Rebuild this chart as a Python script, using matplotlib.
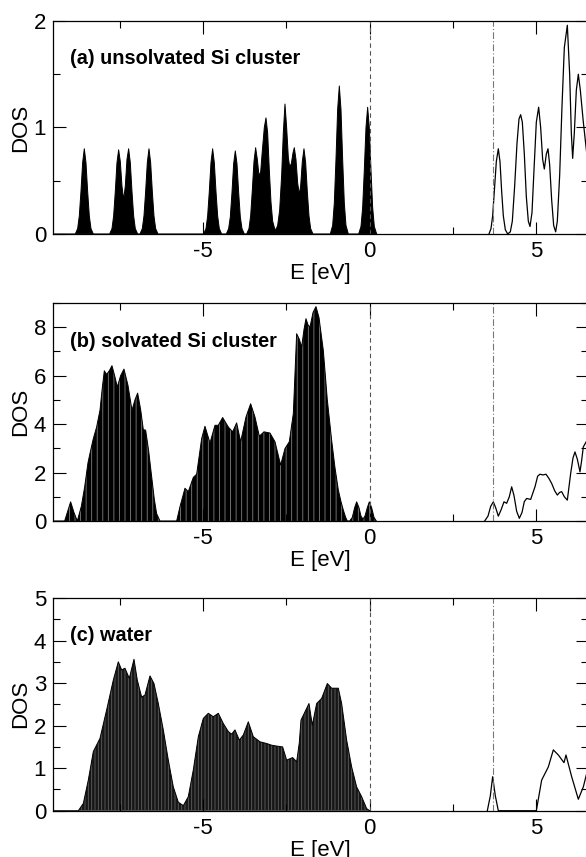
import matplotlib
matplotlib.use("Agg")
import matplotlib.pyplot as plt
from matplotlib.ticker import MultipleLocator

plt.rcParams['font.family'] = ['Liberation Sans', 'DejaVu Sans']
plt.rcParams['hatch.linewidth'] = 0.6

# ---- data: energy [eV] and DOS ----
# (a) unsolvated Si cluster, occupied states (filled)
a_occ_E = [-9.5,
           -8.83, -8.76, -8.71, -8.66, -8.61, -8.56, -8.51, -8.46, -8.41, -8.36, -8.29,
           -7.80, -7.73, -7.68, -7.63, -7.58, -7.53, -7.48, -7.43, -7.38, -7.33, -7.28,
           -7.23, -7.18, -7.13, -7.08, -7.03, -6.96,
           -6.89, -6.82, -6.77, -6.72, -6.67, -6.62, -6.57, -6.52, -6.47, -6.42, -6.35,
           -4.98, -4.91, -4.86, -4.81, -4.76, -4.71, -4.66, -4.61, -4.56, -4.51, -4.44,
           -4.30, -4.23, -4.18, -4.13, -4.08, -4.03, -3.98, -3.93, -3.88, -3.83, -3.76,
           -3.69, -3.62, -3.57, -3.52, -3.47, -3.42, -3.37, -3.32, -3.27, -3.22,
           -3.16, -3.11, -3.06, -3.01, -2.96, -2.91, -2.85, -2.81, -2.76, -2.70,
           -2.64, -2.59, -2.54, -2.49, -2.44, -2.40, -2.35, -2.30, -2.26, -2.21,
           -2.16, -2.11, -2.07, -2.02, -1.97, -1.92, -1.87, -1.82, -1.77, -1.70,
           -1.18, -1.11, -1.06, -1.01, -0.96, -0.91, -0.86, -0.81, -0.76, -0.71, -0.64,
           -0.33, -0.26, -0.21, -0.16, -0.11, -0.06, -0.01, 0.04, 0.09, 0.14, 0.21]
a_occ_D = [0,
           0, 0.05, 0.17, 0.40, 0.67, 0.80, 0.67, 0.40, 0.17, 0.05, 0,
           0, 0.05, 0.17, 0.40, 0.67, 0.79, 0.68, 0.45, 0.32, 0.45, 0.70,
           0.80, 0.67, 0.40, 0.17, 0.05, 0,
           0, 0.05, 0.17, 0.40, 0.67, 0.80, 0.67, 0.40, 0.17, 0.05, 0,
           0, 0.05, 0.17, 0.40, 0.67, 0.80, 0.67, 0.40, 0.17, 0.05, 0,
           0, 0.05, 0.16, 0.39, 0.66, 0.78, 0.66, 0.39, 0.16, 0.05, 0,
           0, 0.05, 0.17, 0.41, 0.68, 0.81, 0.70, 0.55, 0.58, 0.78,
           1.00, 1.09, 0.95, 0.60, 0.30, 0.12, 0.05, 0.04, 0.08, 0.22,
           0.55, 0.95, 1.22, 1.00, 0.72, 0.63, 0.66, 0.76, 0.81, 0.70,
           0.48, 0.37, 0.45, 0.68, 0.80, 0.67, 0.40, 0.17, 0.05, 0,
           0, 0.08, 0.29, 0.70, 1.17, 1.39, 1.17, 0.70, 0.29, 0.08, 0,
           0, 0.07, 0.25, 0.60, 1.00, 1.19, 1.00, 0.60, 0.25, 0.07, 0]
# (a) unoccupied states (line)
a_unocc_E = [3.58, 3.64, 3.69, 3.74, 3.80, 3.86, 3.91, 3.96, 4.01, 4.07,
             4.14, 4.22, 4.28, 4.35, 4.42, 4.48, 4.53, 4.58, 4.64, 4.70,
             4.76, 4.81, 4.87, 4.93, 5.00, 5.07, 5.13, 5.19, 5.24, 5.30,
             5.35, 5.40, 5.46, 5.52, 5.58, 5.63, 5.70, 5.77, 5.84, 5.93,
             6.00, 6.05, 6.09, 6.14, 6.20, 6.26, 6.32, 6.41, 6.55]
a_unocc_D = [0, 0.05, 0.17, 0.40, 0.68, 0.80, 0.68, 0.40, 0.17, 0.04,
             0.0, 0.02, 0.12, 0.45, 0.85, 1.08, 1.12, 1.05, 0.75, 0.35,
             0.12, 0.07, 0.20, 0.60, 1.05, 1.19, 1.00, 0.70, 0.61, 0.75,
             0.80, 0.65, 0.32, 0.08, 0.02, 0.12, 0.55, 1.20, 1.75, 1.96,
             1.50, 0.95, 0.71, 0.95, 1.35, 1.50, 1.35, 1.05, 0.65]

# (b) solvated Si cluster
b_occ_E = [-9.5, -9.15, -9.07, -8.97, -8.87, -8.77, -8.65, -8.55, -8.45, -8.39,
           -8.29, -8.19, -8.09, -8.02, -7.96, -7.89, -7.81, -7.73, -7.65, -7.57,
           -7.47, -7.37, -7.25, -7.13, -7.04, -6.96, -6.87, -6.79, -6.72, -6.63,
           -6.54, -6.46, -6.39, -6.29,
           -5.79, -5.69, -5.54, -5.44, -5.29, -5.19, -5.04, -4.94, -4.79, -4.64,
           -4.54, -4.41, -4.24, -4.11, -3.99, -3.87, -3.71, -3.57, -3.44, -3.31,
           -3.17, -2.99, -2.84, -2.67, -2.54, -2.41, -2.29, -2.19, -2.11, -2.04,
           -1.97, -1.91, -1.85, -1.79, -1.70, -1.61, -1.52, -1.39, -1.27, -1.14,
           -1.04, -0.94, -0.86, -0.79, -0.72, -0.67,
           -0.60, -0.52, -0.45, -0.39, -0.32, -0.26, -0.20, -0.14, -0.07, -0.01,
           0.06, 0.13, 0.20]
b_occ_D = [0, 0, 0.35, 0.79, 0.35, 0, 0.6, 1.4, 2.4, 2.79,
           3.4, 3.88, 4.57, 5.5, 6.2, 6.05, 6.2, 6.41, 6.0, 5.53,
           6.0, 6.27, 5.6, 4.57, 5.0, 5.28, 4.6, 3.77, 3.75, 2.9,
           1.83, 0.9, 0.3, 0,
           0, 0.59, 1.35, 1.21, 1.8, 1.93, 3.4, 3.91, 3.22, 3.95,
           3.95, 4.27, 3.88, 3.68, 4.05, 3.27, 4.29, 4.84, 4.29, 3.5,
           3.68, 3.63, 3.27, 2.31, 2.99, 3.27, 4.43, 7.73, 7.5, 7.18,
           7.9, 8.35, 8.1, 8.0, 8.6, 8.85, 8.4, 7.04, 5.0, 3.33,
           2.2, 1.28, 0.8, 0.45, 0.15, 0,
           0, 0.15, 0.55, 0.79, 0.55, 0.2, 0.08, 0.2, 0.55, 0.79,
           0.55, 0.15, 0]
b_unocc_E = [3.45, 3.55, 3.63, 3.71, 3.78, 3.86, 3.94, 4.03, 4.11, 4.19,
             4.26, 4.33, 4.41, 4.49, 4.57, 4.64, 4.71, 4.83, 4.96, 5.04,
             5.11, 5.20, 5.29, 5.38, 5.46, 5.55, 5.63, 5.70, 5.76, 5.84,
             5.93, 6.03, 6.10, 6.16, 6.23, 6.31, 6.36, 6.41, 6.55]
b_unocc_D = [0, 0.2, 0.6, 0.79, 0.55, 0.2, 0.45, 0.79, 0.73, 1.0,
             1.41, 1.05, 0.4, 0.11, 0.35, 0.8, 0.93, 0.89, 1.41, 1.85,
             1.93, 1.90, 1.93, 1.75, 1.55, 1.25, 1.07, 1.18, 1.21, 1.0,
             0.86, 1.96, 2.6, 2.85, 2.55, 2.03, 2.5, 3.06, 3.4]

# (c) water
c_occ_E = [-9.5, -8.74, -8.59, -8.44, -8.29, -8.09, -7.89, -7.69, -7.54, -7.44,
           -7.34, -7.21, -7.07, -6.97, -6.84, -6.74, -6.59, -6.47, -6.34, -6.19,
           -6.04, -5.89, -5.74, -5.59, -5.44, -5.29, -5.14, -4.99, -4.84, -4.69,
           -4.54, -4.39, -4.24, -4.14, -4.04, -3.91, -3.79, -3.64, -3.49, -3.29,
           -3.09, -2.94, -2.79, -2.61, -2.49, -2.31, -2.19, -2.11, -2.06, -1.82,
           -1.72, -1.59, -1.44, -1.27, -1.14, -0.94, -0.84, -0.69, -0.54, -0.39,
           -0.24, -0.09, 0.0]
c_occ_D = [0, 0, 0.17, 0.72, 1.39, 1.7, 2.37, 3.07, 3.5, 3.31,
           3.35, 3.11, 3.56, 3.07, 2.67, 2.72, 3.17, 2.99, 2.52, 1.9,
           1.19, 0.56, 0.2, 0.12, 0.33, 0.96, 1.74, 2.17, 2.29, 2.21,
           2.29, 2.05, 1.86, 1.8, 1.9, 1.66, 1.78, 2.09, 1.74, 1.62,
           1.58, 1.54, 1.52, 1.5, 1.19, 1.25, 1.15, 1.6, 2.13, 2.52,
           2.01, 2.52, 2.64, 2.99, 2.88, 2.88, 2.52, 1.66, 1.03, 0.56,
           0.33, 0.05, 0]
c_unocc_E = [3.53, 3.62, 3.69, 3.77, 3.86, 5.00, 5.16, 5.36, 5.51, 5.66,
             5.83, 5.89, 6.06, 6.26, 6.41, 6.55]
c_unocc_D = [0, 0.35, 0.8, 0.35, 0, 0, 0.72, 1.03, 1.43, 1.31,
             1.13, 1.31, 0.8, 0.27, 0.56, 1.0]

labels = ['(a) unsolvated Si cluster', '(b) solvated Si cluster', '(c) water']
ylims = [2, 9, 5]
ymajor = [1, 2, 1]
yminor = [0.5, 1, 0.5]
homo = 0.0
lumo = [3.71, 3.69, 3.69]

panels = [(a_occ_E, a_occ_D, a_unocc_E, a_unocc_D),
          (b_occ_E, b_occ_D, b_unocc_E, b_unocc_D),
          (c_occ_E, c_occ_D, c_unocc_E, c_unocc_D)]
fills = ['black', 'black', '#161616']
hatches = [None, '|||', '|||||']
stripe_cols = [None, '#808080', '#606060']

fig = plt.figure(figsize=(5.86, 8.57), dpi=100)
boxes = [[0.0904, 0.7270, 0.913, 0.2485],
         [0.0904, 0.3921, 0.913, 0.2544],
         [0.0904, 0.0540, 0.913, 0.2482]]

for i, (oE, oD, uE, uD) in enumerate(panels):
    ax = fig.add_axes(boxes[i])
    ax.fill_between(oE, 0, oD, facecolor=fills[i], edgecolor='none', lw=0)
    if hatches[i]:
        # the original fill shows thin grey vertical stripes
        ax.fill_between(oE, 0, oD, facecolor='none', edgecolor=stripe_cols[i],
                        hatch=hatches[i], lw=0)
    ax.plot(oE, oD, color='black', lw=0.7)
    ax.plot(uE, uD, color='black', lw=0.9)
    ax.axvline(homo, color='#555555', lw=0.8, ls=(0, (4, 3)))
    ax.axvline(lumo[i], color='#777777', lw=0.8, ls=(0, (6, 2, 1, 2)))

    ax.set_xlim(-9.5, 6.55)
    ax.set_ylim(0, ylims[i])
    ax.xaxis.set_major_locator(MultipleLocator(5))
    ax.xaxis.set_minor_locator(MultipleLocator(2.5))
    ax.yaxis.set_major_locator(MultipleLocator(ymajor[i]))
    ax.yaxis.set_minor_locator(MultipleLocator(yminor[i]))
    ax.tick_params(which='both', direction='in', top=True, right=True,
                   labelsize=16, pad=5, width=0.8)
    ax.tick_params(which='major', length=9)
    ax.tick_params(which='minor', length=5)
    for s in ax.spines.values():
        s.set_linewidth(0.9)
    ax.set_xticks([-5, 0, 5])
    ax.set_xticklabels(['-5', '0', '5'])
    ax.set_xlabel('E [eV]', fontsize=16, labelpad=1)
    ax.set_ylabel('DOS', fontsize=16, labelpad=1.5)
    ax.text(0.032, 0.80, labels[i], transform=ax.transAxes,
            fontsize=14.3, fontweight='bold', va='baseline')

fig.savefig('out.png', dpi=100)
